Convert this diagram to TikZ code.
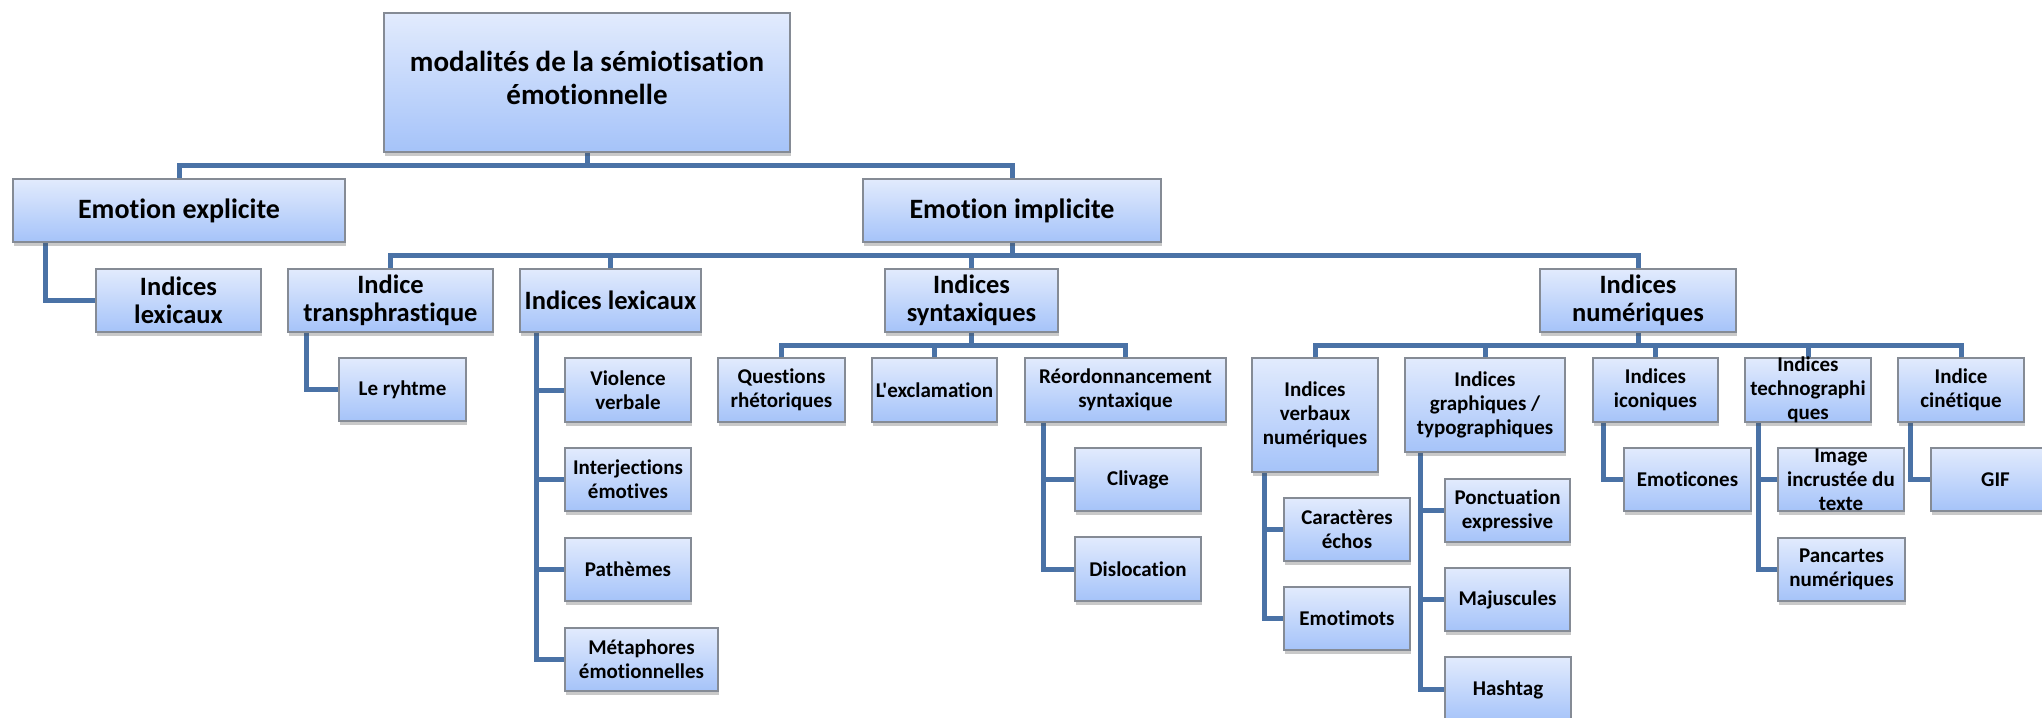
\documentclass[tikz,border=0pt]{standalone}
\usepackage{fontspec}
\setmainfont{Carlito}[Ligatures={NoCommon,TeXOff}]
\usetikzlibrary{shadows}
\definecolor{connblue}{HTML}{4A72A6}
\definecolor{boxtop}{HTML}{E2EBFD}
\definecolor{boxbot}{HTML}{A5C3F9}
\definecolor{boxline}{HTML}{858B95}
\pgfdeclarelayer{background}
\pgfsetlayers{background,main}
\tikzset{
  box/.style={rectangle, draw=boxline, line width=0.9pt, top color=boxtop, bottom color=boxbot,
    inner sep=0pt, drop shadow={shadow xshift=0.6pt, shadow yshift=-2.2pt, opacity=0.3, fill=black!70}},
  txt/.style={align=center, inner sep=0pt, text=black},
  tA/.style={font=\bfseries\fontsize{14.5}{16.5}\selectfont, yshift=2.5pt},
  tB/.style={font=\bfseries\fontsize{14}{16.5}\selectfont},
  tC/.style={font=\bfseries\fontsize{13.25}{14}\selectfont},
  tD/.style={font=\bfseries\fontsize{10.5}{12}\selectfont},
  link/.style={draw=connblue, line width=2.5pt, line join=miter}
}
\newcommand\mybox[7][]{%
  \node[box, minimum width={(#5-#3)*0.5pt}, minimum height={(#6-#4)*0.5pt}] (#2) at ({(#3+#5)/2},{(#4+#6)/2}) {};
  \node[txt,#1] (#2-t) at (#2.center) {#7};}
\begin{document}
\begin{tikzpicture}[x=0.5pt,y=-0.5pt]
\useasboundingbox (0,0) rectangle (2042,718);
\clip (0,0) rectangle (2042,718);
% level 0
\mybox[tA]{root}{384}{13}{790}{152}{modalités de la sémiotisation\\émotionnelle}
% level 1
\mybox[tB]{expl}{13}{179}{345}{242}{Emotion explicite}
\mybox[tB]{impl}{863}{179}{1161}{242}{Emotion implicite}
% level 2
\mybox[tC]{lexA}{96}{269}{261}{332}{Indices\\lexicaux}
\mybox[tC]{trans}{288}{269}{493}{332}{Indice\\transphrastique}
\mybox[tC]{lexB}{520}{269}{701}{332}{Indices lexicaux}
\mybox[tC]{synt}{885}{269}{1058}{332}{Indices\\syntaxiques}
\mybox[tC]{num}{1540}{269}{1736}{332}{Indices\\numériques}
% level 3
\mybox[tD]{rythme}{339}{358}{466}{421}{Le ryhtme}
\mybox[tD]{viol}{565}{358}{691}{422}{Violence\\verbale}
\mybox[tD]{interj}{565}{448}{691}{511}{Interjections\\émotives}
\mybox[tD]{path}{565}{538}{691}{601}{Pathèmes}
\mybox[tD]{meta}{565}{628}{718}{691}{Métaphores\\émotionnelles}
\mybox[tD]{quest}{718}{358}{845}{422}{Questions\\rhétoriques}
\mybox[tD]{excl}{872}{358}{997}{422}{L'exclamation}
\mybox[tD]{reord}{1025}{358}{1226}{422}{Réordonnancement\\syntaxique}
\mybox[tD]{cliv}{1075}{448}{1201}{511}{Clivage}
\mybox[tD]{disl}{1075}{537}{1201}{601}{Dislocation}
\mybox[tD]{verb}{1252}{358}{1378}{472}{Indices\\verbaux\\numériques}
\mybox[tD]{graph}{1405}{358}{1565}{452}{Indices\\graphiques /\\typographiques}
\mybox[tD]{icon}{1593}{358}{1718}{422}{Indices\\iconiques}
\mybox[tD]{techno}{1745}{358}{1871}{422}{Indices\\technographi\\ques}
\mybox[tD]{cine}{1898}{358}{2024}{422}{Indice\\cinétique}
\mybox[tD]{echo}{1284}{498}{1410}{561}{Caractères\\échos}
\mybox[tD]{emot}{1284}{587}{1410}{650}{Emotimots}
\mybox[tD]{ponct}{1445}{479}{1570}{542}{Ponctuation\\expressive}
\mybox[tD]{maj}{1445}{568}{1570}{631}{Majuscules}
\mybox[tD]{hash}{1445}{657}{1571}{722}{Hashtag}
\mybox[tD]{emoti}{1624}{448}{1751}{511}{Emoticones}
\mybox[tD]{image}{1778}{448}{1904}{511}{Image\\incrustée du\\texte}
\mybox[tD]{panc}{1778}{538}{1905}{601}{Pancartes\\numériques}
\mybox[tD]{gif}{1931}{448}{2060}{511}{GIF}
% connectors
\coordinate (b0) at (587,165);
\coordinate (b1) at (1012,255);
\coordinate (b2) at (971.5,345);
\coordinate (b3) at (1638,345);
\begin{pgfonlayer}{background}
\draw[link] (root.south) -- (b0);
\draw[link] (b0) -| (expl.north);
\draw[link] (b0) -| (impl.north);
\draw[link] ([xshift=16.5pt]expl.south west) |- (lexA.west);
\draw[link] (impl.south) -- (b1);
\draw[link] (b1) -| (trans.north);
\draw[link] (b1) -| (lexB.north);
\draw[link] (b1) -| (synt.north);
\draw[link] (b1) -| (num.north);
\draw[link] ([xshift=9.5pt]trans.south west) |- (rythme.west);
\draw[link] ([xshift=8.5pt]lexB.south west) |- (viol.west);
\draw[link] ([xshift=8.5pt]lexB.south west) |- (interj.west);
\draw[link] ([xshift=8.5pt]lexB.south west) |- (path.west);
\draw[link] ([xshift=8.5pt]lexB.south west) |- (meta.west);
\draw[link] (synt.south) -- (b2);
\draw[link] (b2) -| (quest.north);
\draw[link] (b2) -| (excl.north);
\draw[link] (b2) -| (reord.north);
\draw[link] ([xshift=9.5pt]reord.south west) |- (cliv.west);
\draw[link] ([xshift=9.5pt]reord.south west) |- (disl.west);
\draw[link] (num.south) -- (b3);
\draw[link] (b3) -| (verb.north);
\draw[link] (b3) -| (graph.north);
\draw[link] (b3) -| (icon.north);
\draw[link] (b3) -| (techno.north);
\draw[link] (b3) -| (cine.north);
\draw[link] ([xshift=6.5pt]verb.south west) |- (echo.west);
\draw[link] ([xshift=6.5pt]verb.south west) |- (emot.west);
\draw[link] ([xshift=8pt]graph.south west) |- (ponct.west);
\draw[link] ([xshift=8pt]graph.south west) |- (maj.west);
\draw[link] ([xshift=8pt]graph.south west) |- (hash.west);
\draw[link] ([xshift=5.5pt]icon.south west) |- (emoti.west);
\draw[link] ([xshift=7pt]techno.south west) |- (image.west);
\draw[link] ([xshift=7pt]techno.south west) |- (panc.west);
\draw[link] ([xshift=6.5pt]cine.south west) |- (gif.west);
\end{pgfonlayer}
\end{tikzpicture}
\end{document}
